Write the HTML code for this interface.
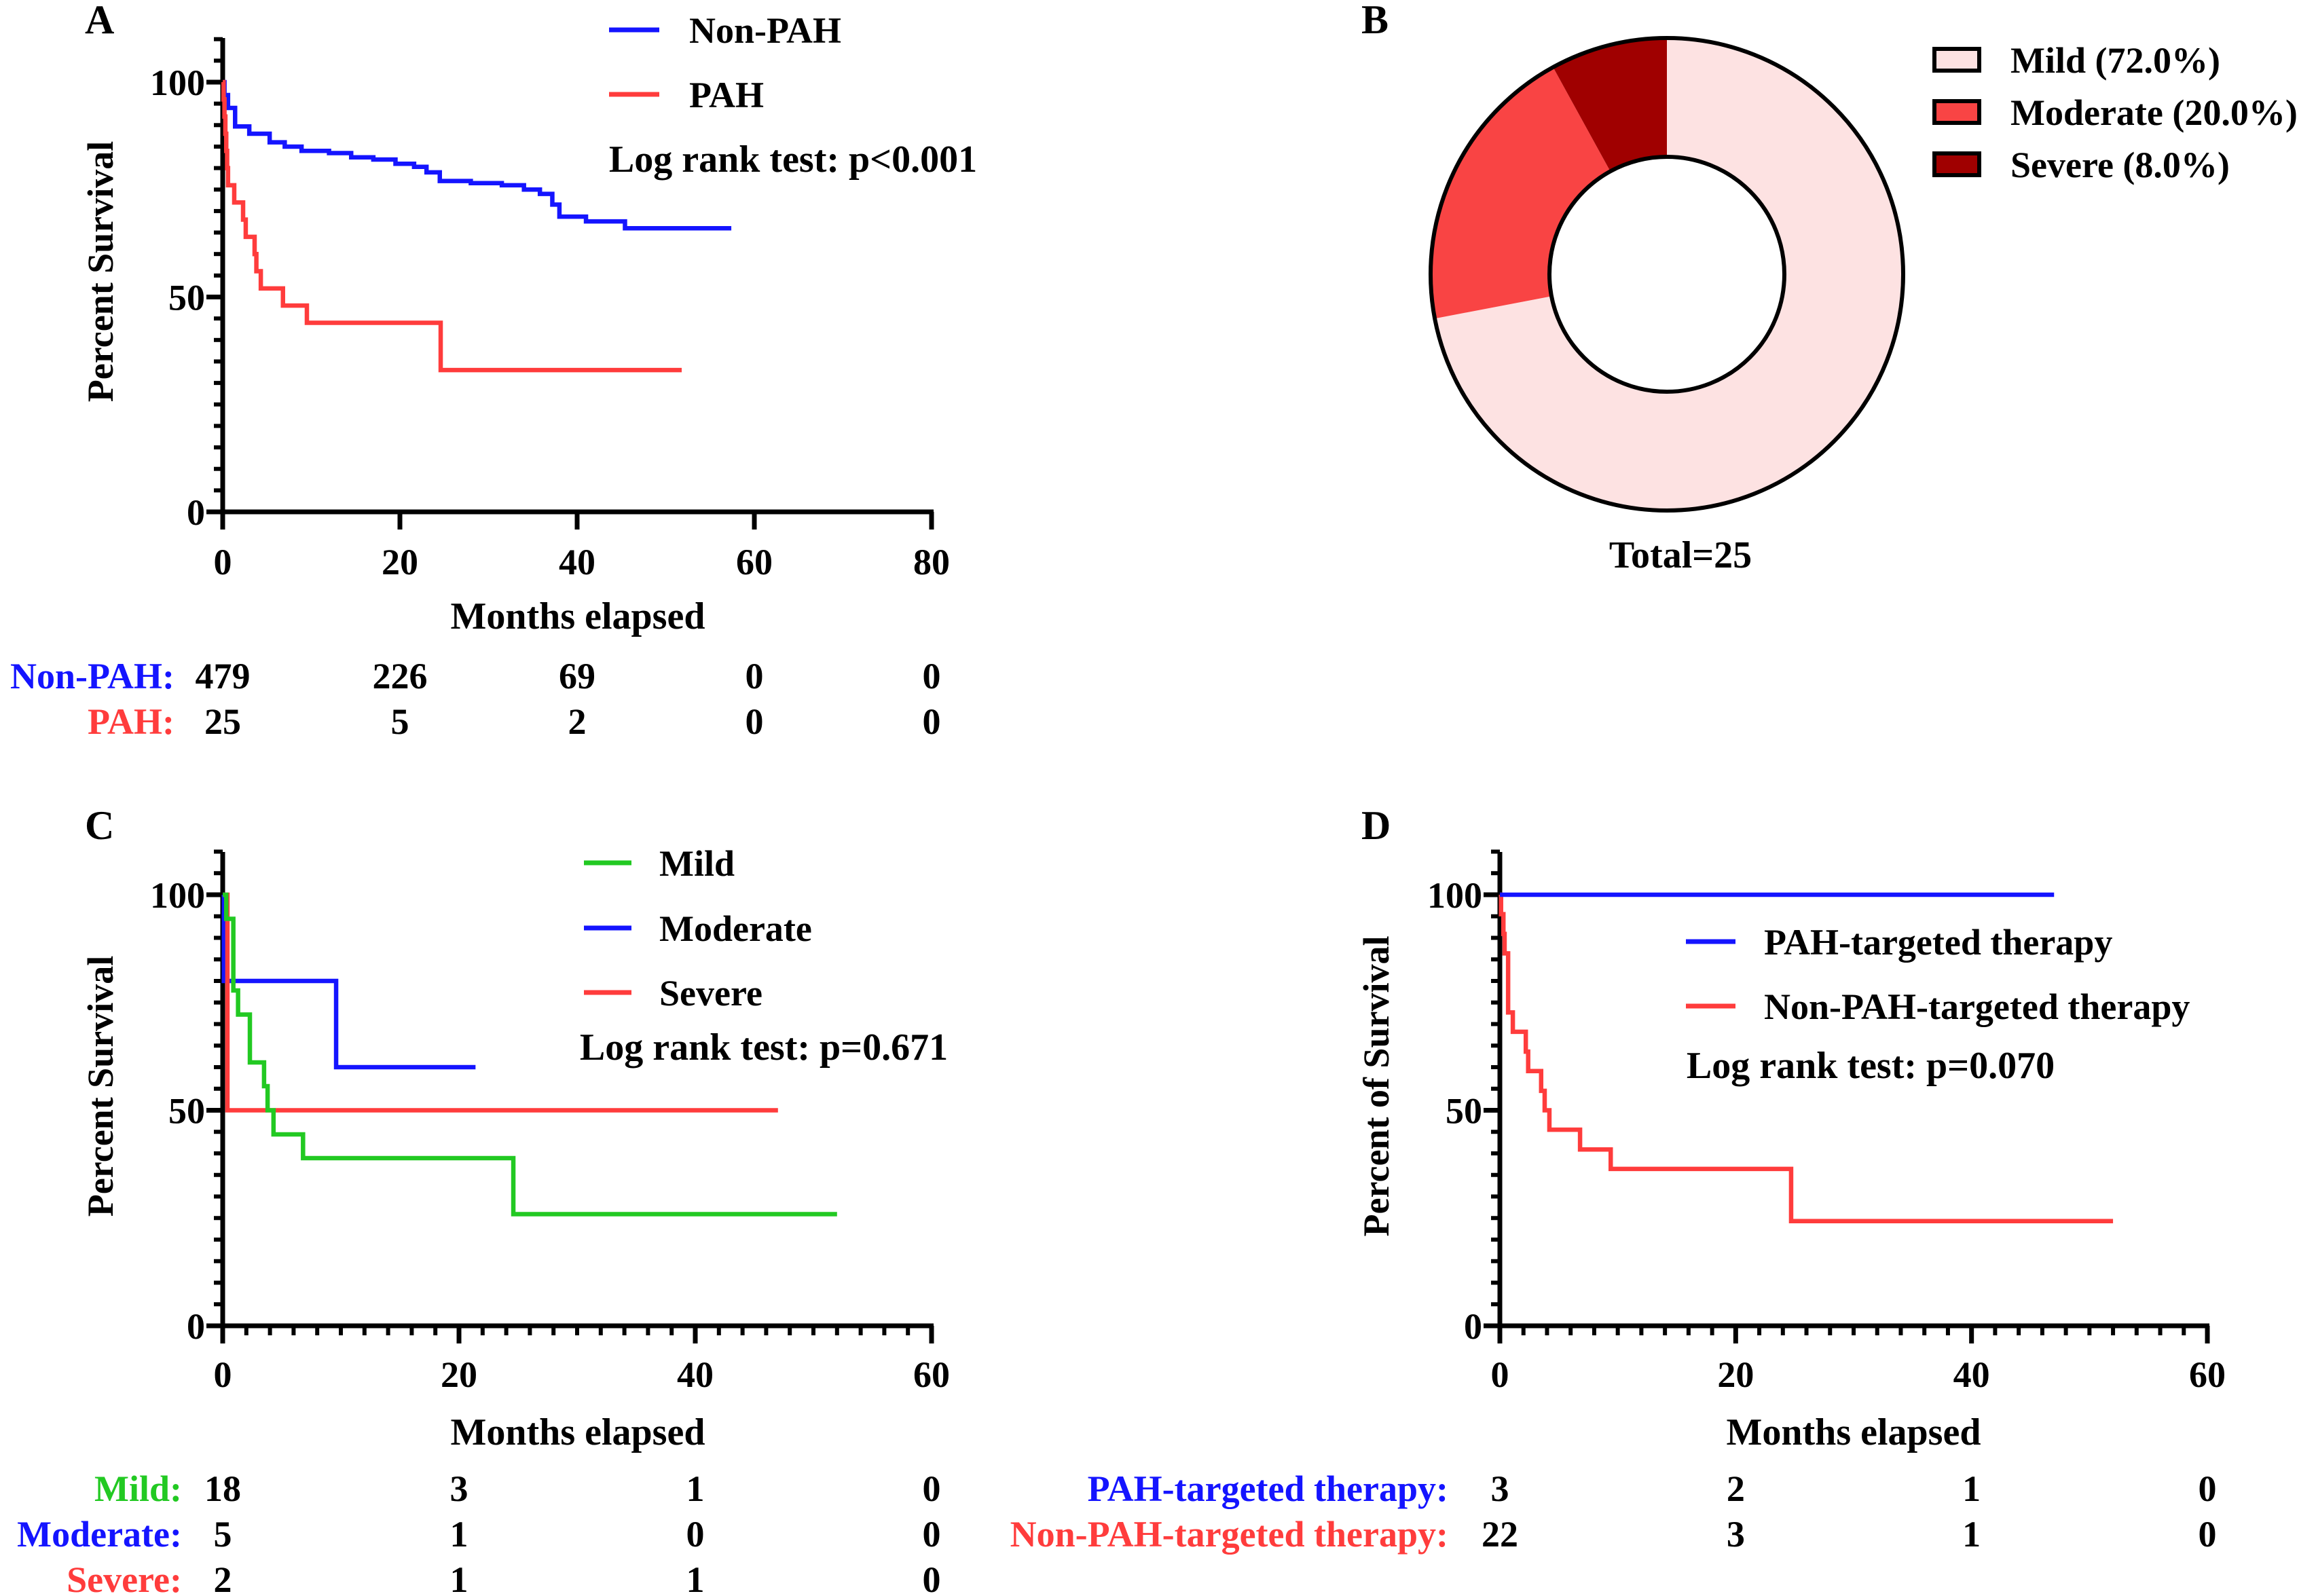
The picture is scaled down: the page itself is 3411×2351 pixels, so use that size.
<!DOCTYPE html>
<html><head><meta charset="utf-8"><title>Survival figure</title>
<style>
html,body{margin:0;padding:0;background:#fff;}
svg{display:block;}
text{font-family:"Liberation Serif","Times New Roman","DejaVu Serif",serif;font-weight:bold;fill:#000;}
</style></head>
<body>
<svg id="fig" width="3411" height="2351" viewBox="0 0 3411 2351" xmlns="http://www.w3.org/2000/svg" font-family="Liberation Serif, serif"></svg>
<script>
// ---------- data ----------
// Panel A
const aNonPahTimes = [0.2,0.6,1.4,3,5.3,7,8.9,12,14.5,17,19.5,21.6,23,24.5,28,31.5,34,35.8,37.2,38,41,45.4];
const aNonPahSurv  = [97,94,89.7,88,86,85,84,83.5,82.5,82,81,80.3,79,77,76.5,76,75,74,71.5,68.7,67.6,66];
const aNonPahEnd = 57.4;
const aPahTimes = [0.1,0.2,0.3,0.4,0.5,0.6,1.3,2.3,2.6,3.6,3.8,4.3,6.8,9.5,24.6];
const aPahSurv  = [96,92,88,84,80,76,72,68,64,60,56,52,48,44,33];
const aPahEnd = 51.8;
const aXTicks = [0,20,40,60,80];
const aRiskNonPah = ['479','226','69','0','0'];
const aRiskPah = ['25','5','2','0','0'];
// Panel B
const bCategories = ['Mild (72.0%)','Moderate (20.0%)','Severe (8.0%)'];
const bValues = [72,20,8];
const bColors = ['#fde2e2','#f94444','#a00000'];
// Panel C
const cMildTimes = [0.3,0.9,1.3,2.3,3.5,3.8,4.3,6.8,24.6];
const cMildSurv  = [94.4,77.8,72.2,61.1,55.6,50,44.4,38.9,25.9];
const cMildEnd = 52;
const cModTimes = [0.1,9.6];
const cModSurv  = [80,60];
const cModEnd = 21.4;
const cSevTimes = [0.4];
const cSevSurv  = [50];
const cSevEnd = 47;
const cXTicks = [0,20,40,60];
const cRiskMild = ['18','3','1','0'];
const cRiskMod = ['5','1','0','0'];
const cRiskSev = ['2','1','1','0'];
// Panel D
const dPahTimes = [];
const dPahSurv = [];
const dPahEnd = 47;
const dNonTimes = [0.1,0.3,0.4,0.7,1.1,2.2,2.4,3.5,3.8,4.2,6.8,9.4,24.7];
const dNonSurv  = [95.5,90.9,86.4,72.7,68.2,63.6,59.1,54.5,50,45.5,40.9,36.4,24.3];
const dNonEnd = 52;
const dXTicks = [0,20,40,60];
const dRiskPah = ['3','2','1','0'];
const dRiskNon = ['22','3','1','0'];
const yTicks = [0,50,100];

// ---------- helpers ----------
const NS = 'http://www.w3.org/2000/svg';
const svg = document.getElementById('fig');
function el(tag, attrs, parent, txt){
  const e = document.createElementNS(NS, tag);
  for (const k in attrs) e.setAttribute(k, attrs[k]);
  if (txt !== undefined) e.textContent = txt;
  (parent || svg).appendChild(e);
  return e;
}
const BLUE='#1414ff', RED='#ff3c3c', GREEN='#22c922';

function makeAxes(g, o){
  const x = v => o.x0 + (v - 0) / o.xmax * (o.x1 - o.x0);
  const y = v => o.y0 - v / 100 * (o.y0 - o.y100);
  const ya = el('line',{x1:o.x0,y1:o.ytop,x2:o.x0,y2:o.y0+3,stroke:'#000','stroke-width':7},g);
  
  
  for (let v=5; v<=110; v+=5){
    if (y(v) < o.ytop-2) break;
    const major = (v%50===0);
    const t = el('line',{x1:o.x0-(major?24:13),y1:y(v),x2:o.x0,y2:y(v),stroke:'#000','stroke-width':major?7:6},g);
    
    
  }
  const t0 = el('line',{x1:o.x0-24,y1:y(0),x2:o.x0,y2:y(0),stroke:'#000','stroke-width':7},g);
  
  
  yTicks.forEach(v=>{
    const t = el('text',{x:o.x0-26,y:y(v)+19,'text-anchor':'end','font-size':54},g,String(v));
    
    
  });
  const xa = el('line',{x1:o.x0-3,y1:o.y0,x2:o.x1+3,y2:o.y0,stroke:'#000','stroke-width':7},g);
  
  
  if (o.minor){
    for (let v=2; v<o.xmax; v+=2){
      if (v%20===0) continue;
      const t = el('line',{x1:x(v),y1:o.y0,x2:x(v),y2:o.y0+14,stroke:'#000','stroke-width':6},g);
      
      
    }
  }
  o.xticks.forEach(v=>{
    const t = el('line',{x1:x(v),y1:o.y0,x2:x(v),y2:o.y0+26,stroke:'#000','stroke-width':7},g);
    
    
    const l = el('text',{x:x(v),y:o.tickY,'text-anchor':'middle','font-size':54},g,String(v));
    
    
  });
  return {x,y};
}
function km(g, s, times, surv, end, color, name){
  let d = 'M'+s.x(0)+' '+s.y(100);
  for (let i=0;i<times.length;i++){ d += ' H'+s.x(times[i])+' V'+s.y(surv[i]); }
  d += ' H'+s.x(end);
  const p = el('path',{d:d,fill:'none',stroke:color,'stroke-width':6.5},g);
  
  
}
function legendLine(g, x1, x2, ly, tx, label, color, name){
  const l = el('line',{x1:x1,y1:ly,x2:x2,y2:ly,stroke:color,'stroke-width':7},g);
  
  
  const t = el('text',{x:tx,y:ly+19,'font-size':54},g,label);
  
  
}
function riskRow(g, s, ticks, labelX, yb, label, color, vals, name){
  const t = el('text',{x:labelX,y:yb,'text-anchor':'end','font-size':54,fill:color,style:'fill:'+color},g,label);
  
  
  vals.forEach((v,i)=>{
    const n = el('text',{x:s.x(ticks[i]),y:yb,'text-anchor':'middle','font-size':54},g,v);
    
    
  });
}
function title(g,x,y,txt,name){
  const t = el('text',{x:x,y:y,'text-anchor':'middle','font-size':56},g,txt);
  
  
  return t;
}
function yTitle(g,x,y,txt){
  const t = el('text',{x:x,y:y,'text-anchor':'middle','font-size':54,transform:'rotate(-90 '+x+' '+y+')'},g,txt);
  
  
}
function panelLetter(g,x,y,L){
  const t = el('text',{x:x,y:y,'font-size':60},g,L);
  
  
}

// ---------- Panel A ----------
const gA = el('g',{});


panelLetter(gA,125,49,'A');
const sA = makeAxes(gA,{x0:328,x1:1372,xmax:80,y0:754,y100:121,ytop:56,xticks:aXTicks,tickY:846,minor:false});
km(gA,sA,aNonPahTimes,aNonPahSurv,aNonPahEnd,BLUE,'non-pah-curve');
km(gA,sA,aPahTimes,aPahSurv,aPahEnd,RED,'pah-curve');
legendLine(gA,897,971,44,1015,'Non-PAH',BLUE,'legend-non-pah');
legendLine(gA,897,971,139,1015,'PAH',RED,'legend-pah');
title(gA,1168,253,'Log rank test: p<0.001','log-rank-text');
yTitle(gA,166,400,'Percent Survival');
title(gA,851,926,'Months elapsed','x-axis-title');
riskRow(gA,sA,aXTicks,257,1014,'Non-PAH:',BLUE,aRiskNonPah,'non-pah');
riskRow(gA,sA,aXTicks,257,1081,'PAH:',RED,aRiskPah,'pah');

// ---------- Panel B ----------
const gB = el('g',{});


panelLetter(gB,2005,49,'B');
const cx=2455, cy=404, R=348, r=173;
const total = bValues.reduce((a,b)=>a+b,0);
let acc = 0;
function pt(rad, frac){ const a = frac*2*Math.PI; return [cx+rad*Math.sin(a), cy-rad*Math.cos(a)]; }
bValues.forEach((v,i)=>{
  const f0 = acc/total, f1 = (acc+v)/total; acc += v;
  const large = (f1-f0)>0.5?1:0;
  const p0=pt(R,f0), p1=pt(R,f1), q1=pt(r,f1), q0=pt(r,f0);
  const d = `M${p0[0]} ${p0[1]} A${R} ${R} 0 ${large} 1 ${p1[0]} ${p1[1]} L${q1[0]} ${q1[1]} A${r} ${r} 0 ${large} 0 ${q0[0]} ${q0[1]} Z`;
  const s = el('path',{d:d,fill:bColors[i],stroke:'none'},gB);
  
  
});
const oc = el('circle',{cx:cx,cy:cy,r:R,fill:'none',stroke:'#000','stroke-width':6},gB);


const ic = el('circle',{cx:cx,cy:cy,r:r,fill:'#fff',stroke:'#000','stroke-width':6},gB);


bCategories.forEach((c,i)=>{
  const by = 72 + i*77;
  const b = el('rect',{x:2849,y:by,width:66,height:32,fill:bColors[i],stroke:'#000','stroke-width':6},gB);
  
  
  const t = el('text',{x:2961,y:by+35,'font-size':54},gB,c);
  
  
});
title(gB,2475,836,'Total=25','total-label');

// ---------- Panel C ----------
const gC = el('g',{});


panelLetter(gC,125,1236,'C');
const sC = makeAxes(gC,{x0:328,x1:1372,xmax:60,y0:1953,y100:1318,ytop:1255,xticks:cXTicks,tickY:2043,minor:true});
km(gC,sC,cModTimes,cModSurv,cModEnd,BLUE,'moderate-curve');
km(gC,sC,cSevTimes,cSevSurv,cSevEnd,RED,'severe-curve');
km(gC,sC,cMildTimes,cMildSurv,cMildEnd,GREEN,'mild-curve');
legendLine(gC,860,930,1271,971,'Mild',GREEN,'legend-mild');
legendLine(gC,860,930,1367,971,'Moderate',BLUE,'legend-moderate');
legendLine(gC,860,930,1462,971,'Severe',RED,'legend-severe');
title(gC,1125,1561,'Log rank test: p=0.671','log-rank-text');
yTitle(gC,166,1600,'Percent Survival');
title(gC,851,2128,'Months elapsed','x-axis-title');
riskRow(gC,sC,cXTicks,268,2211,'Mild:',GREEN,cRiskMild,'mild');
riskRow(gC,sC,cXTicks,268,2278,'Moderate:',BLUE,cRiskMod,'moderate');
riskRow(gC,sC,cXTicks,268,2345,'Severe:',RED,cRiskSev,'severe');

// ---------- Panel D ----------
const gD = el('g',{});


panelLetter(gD,2005,1236,'D');
const sD = makeAxes(gD,{x0:2209,x1:3251,xmax:60,y0:1953,y100:1318,ytop:1255,xticks:dXTicks,tickY:2043,minor:true});
km(gD,sD,dNonTimes,dNonSurv,dNonEnd,RED,'non-pah-targeted-curve');
km(gD,sD,dPahTimes,dPahSurv,dPahEnd,BLUE,'pah-targeted-curve');
legendLine(gD,2483,2556,1387,2598,'PAH-targeted therapy',BLUE,'legend-pah-targeted');
legendLine(gD,2483,2556,1482,2598,'Non-PAH-targeted therapy',RED,'legend-non-pah-targeted');
title(gD,2755,1588,'Log rank test: p=0.070','log-rank-text');
yTitle(gD,2045,1600,'Percent of Survival');
title(gD,2730,2128,'Months elapsed','x-axis-title');
riskRow(gD,sD,dXTicks,2133,2211,'PAH-targeted therapy:',BLUE,dRiskPah,'pah-targeted');
riskRow(gD,sD,dXTicks,2133,2278,'Non-PAH-targeted therapy:',RED,dRiskNon,'non-pah-targeted');
</script>
</body></html>
